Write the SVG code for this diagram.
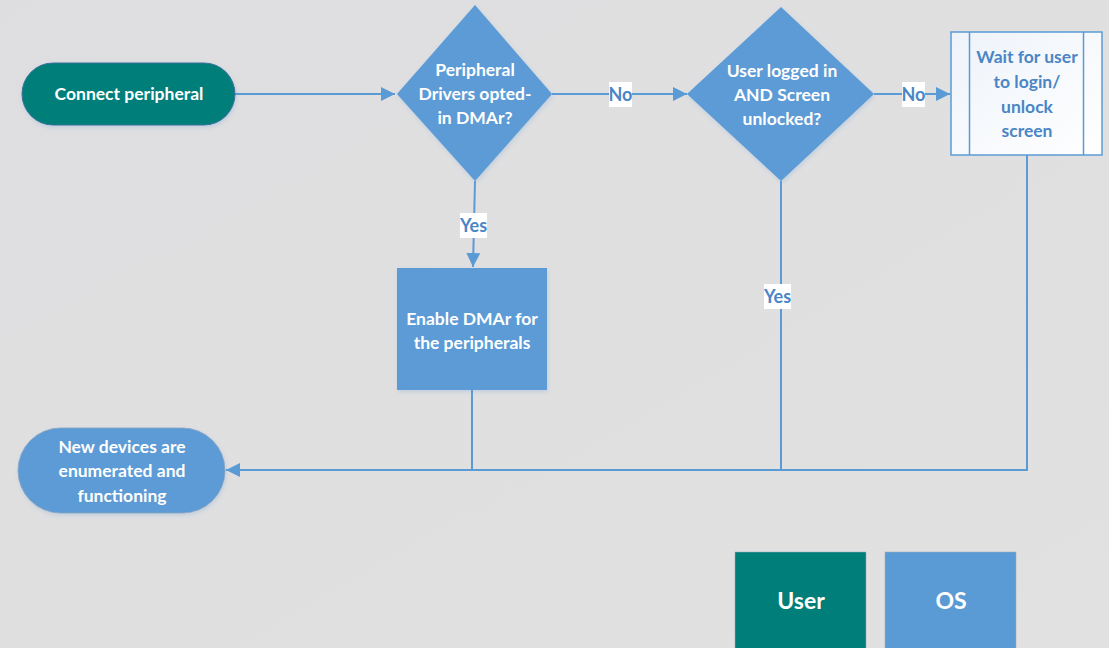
<svg xmlns="http://www.w3.org/2000/svg" width="1109" height="648" viewBox="0 0 1109 648">
<defs>
<linearGradient id="bg" x1="0" y1="0" x2="1" y2="1">
<stop offset="0" stop-color="#dedee0"/>
<stop offset="1" stop-color="#e2e1e1"/>
</linearGradient>
<linearGradient id="wfill" x1="0" y1="0" x2="1" y2="1">
<stop offset="0" stop-color="#eef3fa"/>
<stop offset="1" stop-color="#ffffff"/>
</linearGradient>
<filter id="sh" x="-10%" y="-10%" width="130%" height="130%">
<feDropShadow dx="1" dy="2" stdDeviation="2" flood-color="#5b9bd5" flood-opacity="0.25"/>
</filter>
<marker id="arr" viewBox="0 0 10 10" refX="10" refY="5" markerWidth="14" markerHeight="14" markerUnits="userSpaceOnUse" orient="auto">
<path d="M0,0 L10,5 L0,10 Z" fill="#5b9bd5"/>
</marker>
</defs>
<style>
text{font-family:Lato,"Open Sans","Liberation Sans",sans-serif;font-weight:bold;text-anchor:middle;}
.w{fill:#ffffff;font-size:17.5px;}
.lb{fill:#4a86c5;font-size:17.5px;}
.lbl{fill:#4a86c5;font-size:18px;}
.big{fill:#ffffff;font-size:23px;}
.blue{fill:#5b9bd5;}
.teal{fill:#007f7a;}
.conn{stroke:#5b9bd5;stroke-width:2;fill:none;}
.lbg{fill:#ffffff;}
</style>
<rect width="1109" height="648" fill="url(#bg)"/>

<g id="connectors">
<path class="conn" d="M235,94 H395" marker-end="url(#arr)"/>
<path class="conn" d="M552,94 H687" marker-end="url(#arr)"/>
<path class="conn" d="M874,94 H950" marker-end="url(#arr)"/>
<path class="conn" d="M475,181 L473,267" marker-end="url(#arr)"/>
<path class="conn" d="M472,390 V470"/>
<path class="conn" d="M781,181 V470"/>
<path class="conn" d="M1027,155 V470 H226" marker-end="url(#arr)"/>
<rect class="lbg" x="609" y="82" width="23" height="25"/>
<text class="lbl" x="620.5" y="101">No</text>
<rect class="lbg" x="902" y="82" width="23" height="25"/>
<text class="lbl" x="913.5" y="101">No</text>
<rect class="lbg" x="460" y="213" width="27" height="25"/>
<text class="lbl" x="473.5" y="232">Yes</text>
<rect class="lbg" x="764" y="284" width="27" height="25"/>
<text class="lbl" x="777.5" y="303">Yes</text>
</g>

<g id="connect-peripheral">
<rect x="22" y="63" width="213" height="62" rx="31" class="teal" stroke="#3f6f99" stroke-width="1" filter="url(#sh)"/>
<text class="w" x="129" y="100">Connect peripheral</text>
</g>

<g id="drivers-opted-in">
<polygon points="475,5 552,94 475,181 397,94" class="blue" filter="url(#sh)"/>
<text class="w" x="475" y="76">Peripheral</text>
<text class="w" x="475" y="100">Drivers opted-</text>
<text class="w" x="475" y="124">in DMAr?</text>
</g>

<g id="user-logged-in">
<polygon points="781,7 874,94 781,181 687,94" class="blue" filter="url(#sh)"/>
<text class="w" x="782" y="77">User logged in</text>
<text class="w" x="782" y="101">AND Screen</text>
<text class="w" x="782" y="125">unlocked?</text>
</g>

<g id="wait-for-user">
<rect x="951" y="32" width="151" height="123" fill="url(#wfill)" stroke="#5b9bd5" stroke-width="1.5"/>
<line x1="969.5" y1="32" x2="969.5" y2="155" stroke="#5b9bd5" stroke-width="1.5"/>
<line x1="1083.5" y1="32" x2="1083.5" y2="155" stroke="#5b9bd5" stroke-width="1.5"/>
<text class="lb" x="1027" y="63">Wait for user</text>
<text class="lb" x="1027" y="88">to login/</text>
<text class="lb" x="1027" y="113">unlock</text>
<text class="lb" x="1027" y="137">screen</text>
</g>

<g id="enable-dmar">
<rect x="397" y="268" width="150" height="122" class="blue" filter="url(#sh)"/>
<text class="w" x="472" y="325">Enable DMAr for</text>
<text class="w" x="472" y="349">the peripherals</text>
</g>

<g id="new-devices">
<rect x="18" y="428" width="207" height="85" rx="42.5" class="blue" stroke="#8aa4c0" stroke-width="0.8" filter="url(#sh)"/>
<text class="w" x="122" y="453">New devices are</text>
<text class="w" x="122" y="477">enumerated and</text>
<text class="w" x="122" y="502">functioning</text>
</g>

<g id="legend-user">
<rect x="735" y="552" width="131" height="100" class="teal" stroke="#9ab" stroke-width="0.5"/>
<text class="big" x="801" y="609">User</text>
</g>

<g id="legend-os">
<rect x="885" y="552" width="131" height="100" class="blue" stroke="#9ab" stroke-width="0.5"/>
<text class="big" x="951" y="609">OS</text>
</g>
</svg>
